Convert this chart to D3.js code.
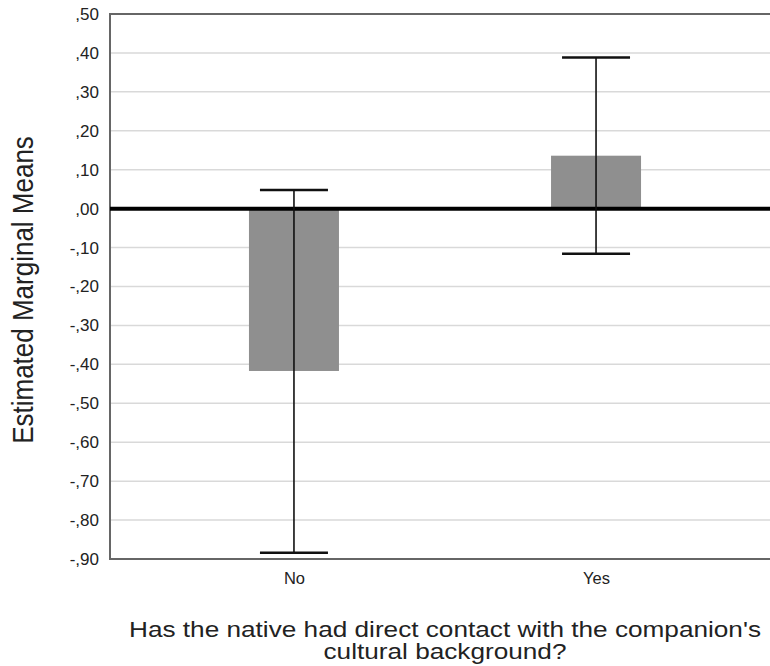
<!DOCTYPE html>
<html>
<head>
<meta charset="utf-8">
<script src="https://cdn.jsdelivr.net/npm/d3@7"></script>
<style>
	body { margin: 0; background: #fff; }
	text { font-family: "Liberation Sans", Arial, sans-serif; fill: #222; }
</style>
</head>
<body>
<svg width="770" height="666"></svg>
<script>
var categories = ["No", "Yes"];
var means = [-0.417, 0.136];
var ciLower = [-0.884, -0.116];
var ciUpper = [0.048, 0.388];
var yTicks = [0.5, 0.4, 0.3, 0.2, 0.1, 0, -0.1, -0.2, -0.3, -0.4, -0.5, -0.6, -0.7, -0.8, -0.9];

var svg = d3.select("svg"),
	plotLeft = 110, plotRight = 780, plotTop = 14, plotBottom = 559;

var x = d3.scalePoint()
	.domain(categories)
	.range([plotLeft, plotRight])
	.padding(0.609);

var y = d3.scaleLinear()
	.domain([-0.9, 0.5])
	.range([plotBottom, plotTop]);

var barWidth = 90, capWidth = 68;

// SPSS style tick label: ",50" / "-,10"
function fmt(v) {
	var s = Math.abs(v).toFixed(2).replace("0.", ",");
	return (Math.abs(v) > 1e-9 && v < 0 ? "-" : "") + s;
}

// gridlines
svg.append("g")
	.selectAll("line")
	.data(yTicks)
	.enter().append("line")
	.attr("x1", plotLeft).attr("x2", 770)
	.attr("y1", function(d) { return y(d); })
	.attr("y2", function(d) { return y(d); })
	.attr("stroke", "#d9d9d9")
	.attr("stroke-width", 1.5);

// y axis labels
var yAxis = d3.axisLeft(y)
	.tickValues(yTicks)
	.tickFormat(fmt)
	.tickSize(0)
	.tickPadding(11);

var ya = svg.append("g")
	.attr("transform", "translate(" + plotLeft + ",0)")
	.call(yAxis);
ya.select(".domain").remove();
ya.selectAll("text")
	.style("font-family", "Liberation Sans, Arial, sans-serif")
	.style("font-size", "17px")
	.attr("fill", "#222");

// bars
svg.append("g")
	.selectAll("rect")
	.data(categories)
	.enter().append("rect")
	.attr("x", function(d) { return x(d) - barWidth / 2; })
	.attr("width", barWidth)
	.attr("y", function(d, i) { return Math.min(y(means[i]), y(0)); })
	.attr("height", function(d, i) { return Math.abs(y(means[i]) - y(0)); })
	.attr("fill", "#8f8f8f");

// frame
svg.append("path")
	.attr("d", "M770," + plotTop + "H" + plotLeft + "V" + plotBottom + "H770")
	.attr("fill", "none")
	.attr("stroke", "#666")
	.attr("stroke-width", 2);

// reference line at zero
svg.append("line")
	.attr("x1", plotLeft).attr("x2", 770)
	.attr("y1", y(0)).attr("y2", y(0))
	.attr("stroke", "#000")
	.attr("stroke-width", 4);

// error bars
var eb = svg.append("g")
	.selectAll("g")
	.data(categories)
	.enter().append("g")
	.attr("stroke", "#111")
	.attr("stroke-width", 1.6);

eb.append("line")
	.attr("x1", function(d) { return x(d); })
	.attr("x2", function(d) { return x(d); })
	.attr("y1", function(d, i) { return y(ciUpper[i]); })
	.attr("y2", function(d, i) { return y(ciLower[i]); });

eb.append("line")
	.attr("x1", function(d) { return x(d) - capWidth / 2; })
	.attr("x2", function(d) { return x(d) + capWidth / 2; })
	.attr("y1", function(d, i) { return y(ciUpper[i]); })
	.attr("y2", function(d, i) { return y(ciUpper[i]); })
	.attr("stroke-width", 2.5);

eb.append("line")
	.attr("x1", function(d) { return x(d) - capWidth / 2; })
	.attr("x2", function(d) { return x(d) + capWidth / 2; })
	.attr("y1", function(d, i) { return y(ciLower[i]); })
	.attr("y2", function(d, i) { return y(ciLower[i]); })
	.attr("stroke-width", 2.5);

// x axis category labels
var xAxis = d3.axisBottom(x).tickSize(0).tickPadding(13);
var xa = svg.append("g")
	.attr("transform", "translate(0," + plotBottom + ")")
	.call(xAxis);
xa.select(".domain").remove();
xa.selectAll("text")
	.style("font-family", "Liberation Sans, Arial, sans-serif")
	.style("font-size", "16.5px")
	.attr("fill", "#222");

// axis titles (the original picture is stretched sideways a bit)
var stretch = 1.19;

svg.append("text")
	.attr("transform", "translate(33,290) scale(1.12,1) rotate(-90)")
	.attr("text-anchor", "middle")
	.style("font-size", "26px")
	.text("Estimated Marginal Means");

var xt = svg.append("text")
	.attr("transform", "translate(445,0) scale(" + stretch + ",1)")
	.attr("text-anchor", "middle")
	.style("font-size", "22px");
xt.append("tspan").attr("x", 0).attr("y", 637)
	.text("Has the native had direct contact with the companion's");
xt.append("tspan").attr("x", 0).attr("y", 659)
	.text("cultural background?");
</script>
</body>
</html>
